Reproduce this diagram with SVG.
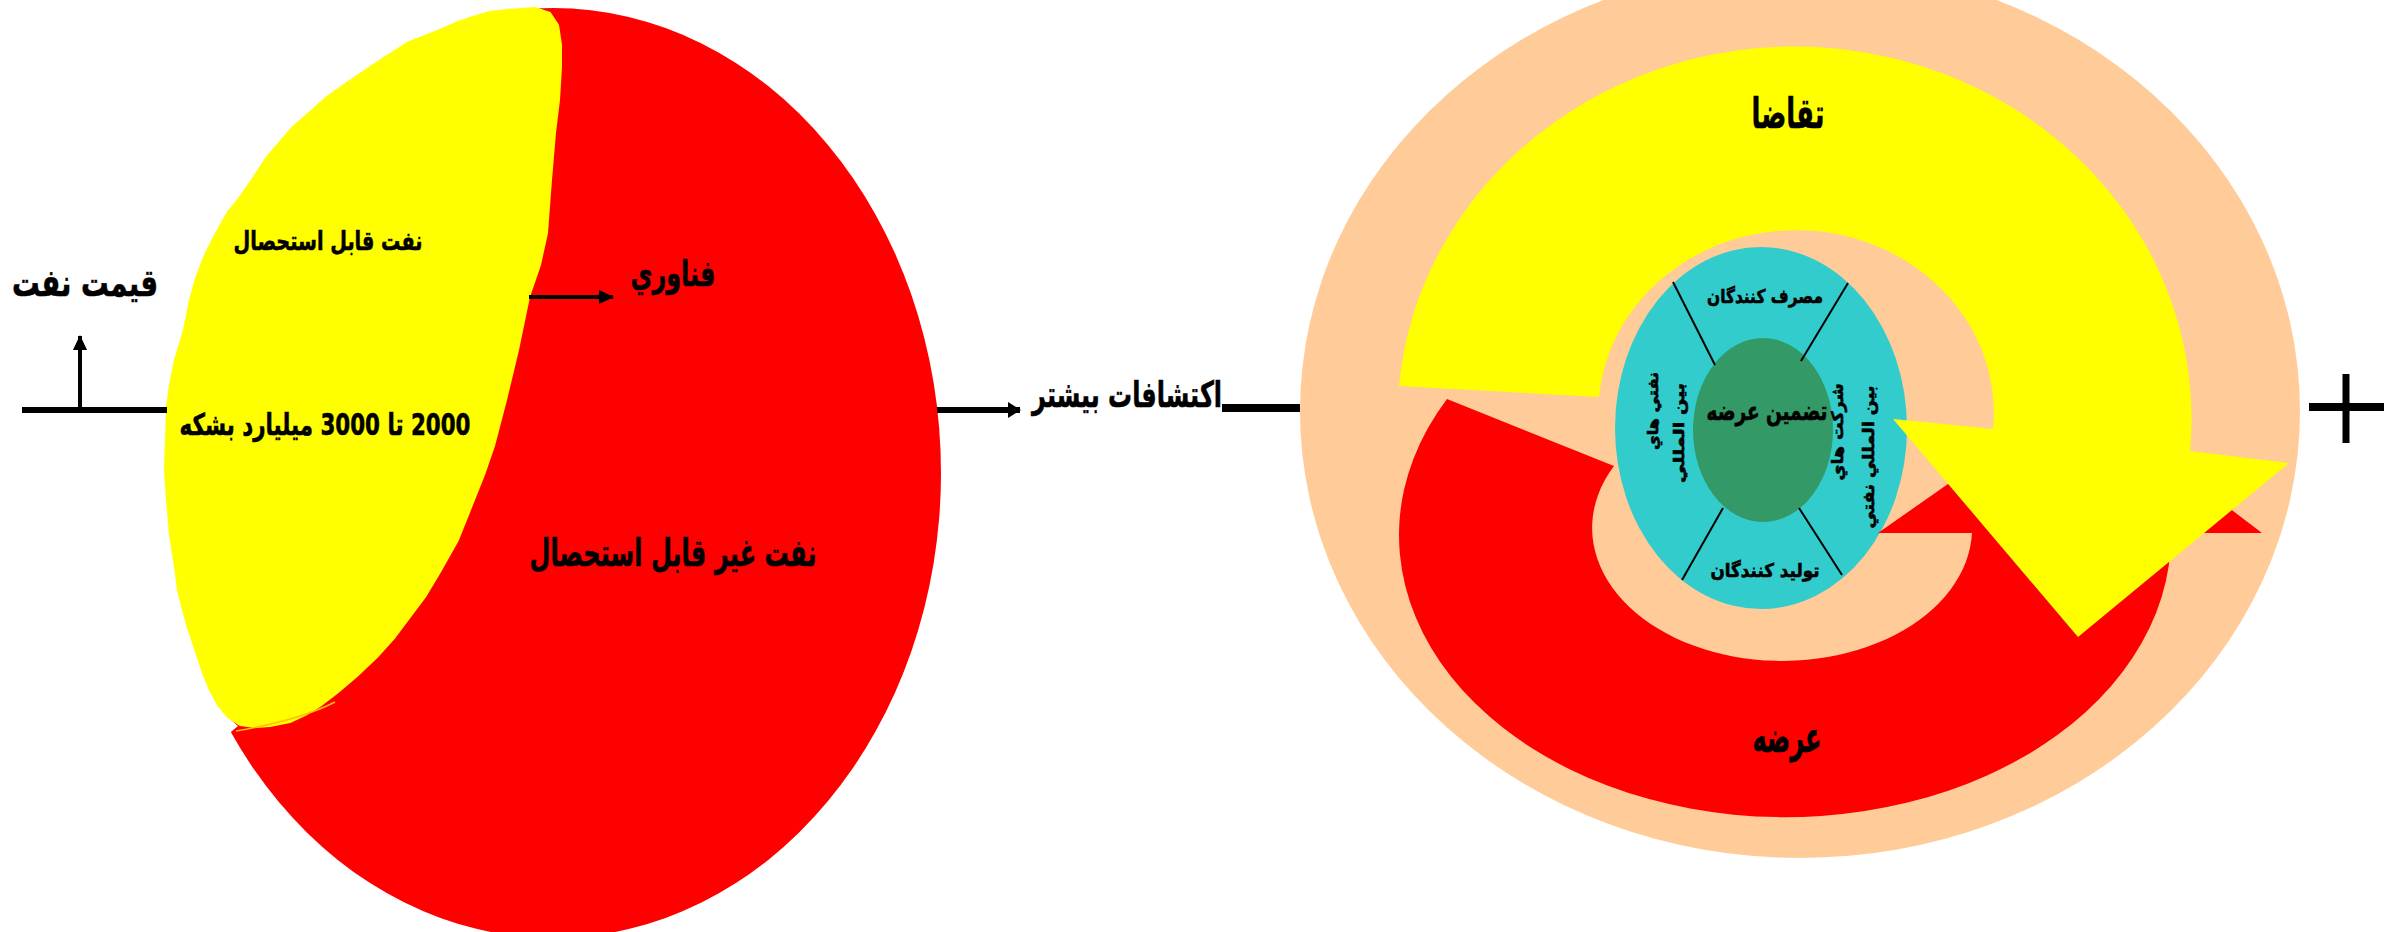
<svg xmlns="http://www.w3.org/2000/svg" width="2392" height="932" viewBox="0 0 2392 932">
<style>
.t{font-family:"DejaVu Sans","Noto Sans",sans-serif;font-weight:bold;fill:#000;stroke:#000;stroke-width:0.6;direction:rtl;text-anchor:middle}
.ln{stroke:#000;fill:none}
</style>
<defs>
<marker id="ah" markerUnits="userSpaceOnUse" markerWidth="13" markerHeight="16" refX="12" refY="8" orient="auto">
<path d="M0,0 L13,8 L0,16 z" fill="#000"/>
</marker>
<marker id="ah2" markerUnits="userSpaceOnUse" markerWidth="15" markerHeight="14" refX="14" refY="7" orient="auto">
<path d="M0,0 L15,7 L0,14 z" fill="#000"/>
</marker>
<clipPath id="redclip">
<path d="M540,0 L535,8 L507,10 L490,12 L473,17 L458,22 L440,30 L425,36 L407,43 L390,54 L370,67 L348,82 L327,97 L310,112 L293,127 L280,142 L267,157 L257,172 L247,187 L240,197 L228,212 L215,235 L205,255 L196,278 L190,300 L184,330 L175,360 L170,385 L167,407 L166,440 L165,470 L167,500 L170,535 L175,567 L178,590 L183,610 L187,625 L193,643 L198,658 L203,673 L210,690 L218,705 L228,717 L238,726 L150,800 L150,932 L1000,932 L1000,0 Z"/>
</clipPath>
</defs>
<rect width="2392" height="932" fill="#fff"/>

<g id="oil-reserves">
<ellipse cx="553" cy="473" rx="388" ry="465" fill="#FF0000" clip-path="url(#redclip)"/>
<path fill="#FFFF00" stroke="#FFFF00" stroke-width="2" stroke-linejoin="round" d="M507,10 L535,8 L550,13 L558,25 L561,45 L561,67 L559,100 L555,133 L551,180 L547,233 L540,265 L529,297 L518,350 L506,400 L494,446 L484,475 L472,505 L458,540 L440,572 L425,597 L410,617 L395,637 L377,657 L357,676 L337,693 L320,706 L307,714 L290,722 L270,726 L255,727 L240,725 L228,717 L218,705 L210,690 L203,673 L198,658 L193,643 L187,625 L183,610 L178,590 L175,567 L170,535 L167,500 L165,470 L166,440 L167,407 L170,385 L175,360 L184,330 L190,300 L196,278 L205,255 L215,235 L228,212 L240,197 L247,187 L257,172 L267,157 L280,142 L293,127 L310,112 L327,97 L348,82 L370,67 L390,54 L407,43 L425,36 L440,30 L458,22 L473,17 L490,12 Z"/>
<path d="M236,731 Q300,720 335,702" stroke="#FFC000" stroke-width="1.5" fill="none"/>
<text class="t" x="328" y="250" font-size="26" textLength="189" lengthAdjust="spacingAndGlyphs">نفت قابل استحصال</text>
<text class="t" x="325" y="435" font-size="30" textLength="291" lengthAdjust="spacingAndGlyphs">2000 تا 3000 ميليارد بشكه</text>
<text class="t" x="673" y="566" font-size="38" textLength="287" lengthAdjust="spacingAndGlyphs">نفت غير قابل استحصال</text>
</g>

<g id="labels-left">
<text class="t" x="85" y="296" font-size="38" textLength="146" lengthAdjust="spacingAndGlyphs">قيمت نفت</text>
<text class="t" x="673" y="286" font-size="36" textLength="85" lengthAdjust="spacingAndGlyphs">فناوري</text>
<text class="t" x="1127" y="407" font-size="36" textLength="190" lengthAdjust="spacingAndGlyphs">اكتشافات بيشتر</text>
</g>

<g id="supply-demand">
<ellipse cx="1800" cy="411" rx="500" ry="447" fill="#FFCC99"/>
<g id="center">
<ellipse cx="1761" cy="428" rx="146" ry="181" fill="#33CCCC"/>
<ellipse cx="1763" cy="430" rx="70" ry="92" fill="#339966"/>
<g class="ln" stroke-width="2">
<line x1="1673" y1="282" x2="1715" y2="365"/>
<line x1="1848" y1="283" x2="1801" y2="361"/>
<line x1="1723" y1="508" x2="1682" y2="580"/>
<line x1="1799" y1="508" x2="1842" y2="575"/>
</g>
<text class="t" x="1765" y="303" font-size="19" textLength="116" lengthAdjust="spacingAndGlyphs">مصرف كنندگان</text>
<text class="t" x="1765" y="577" font-size="19" textLength="109" lengthAdjust="spacingAndGlyphs">توليد كنندگان</text>
<text class="t" x="1767" y="420" font-size="26" textLength="121" lengthAdjust="spacingAndGlyphs">تضمين عرضه</text>
<text class="t" transform="translate(1843,432) rotate(-90)" font-size="16" textLength="97" lengthAdjust="spacingAndGlyphs">شركت هاي</text>
<text class="t" transform="translate(1874,457) rotate(-90)" font-size="16" textLength="143" lengthAdjust="spacingAndGlyphs">بين المللي نفتي</text>
<text class="t" transform="translate(1658,411) rotate(-90)" font-size="15" textLength="78" lengthAdjust="spacingAndGlyphs">نفتي هاي</text>
<text class="t" transform="translate(1684,433) rotate(-90)" font-size="15" textLength="100" lengthAdjust="spacingAndGlyphs">بين المللي</text>
</g>
<path id="supply" fill="#FF0000" d="M1447,399 A386,282 0 1 0 2171,533 L2262,533 L2078,393 L1878,533 L1972,533 A190,133 0 1 1 1614,466 Z"/>
<path id="demand" fill="#FFFF00" d="M1399,386 A396,371 0 1 1 2190,451 L2289,463 L2078,637 L1893,419 L1993,429 A197,182 0 1 0 1599,397 Z"/>
<text class="t" x="1788" y="128" font-size="42" textLength="73" lengthAdjust="spacingAndGlyphs">تقاضا</text>
<text class="t" x="1787" y="752" font-size="42" textLength="69" lengthAdjust="spacingAndGlyphs">عرضه</text>
</g>

<g id="connectors">
<line class="ln" x1="22" y1="410" x2="167" y2="410" stroke-width="6"/>
<line class="ln" x1="80" y1="410" x2="80" y2="336" stroke-width="4" marker-end="url(#ah2)"/>
<line class="ln" x1="529" y1="297" x2="613" y2="297" stroke-width="4" marker-end="url(#ah2)"/>
<line class="ln" x1="937" y1="410" x2="1020" y2="410" stroke-width="6" marker-end="url(#ah)"/>
<line class="ln" x1="1222" y1="408" x2="1300" y2="408" stroke-width="8"/>
<line class="ln" x1="2309" y1="407" x2="2384" y2="407" stroke-width="8"/>
<line class="ln" x1="2346" y1="374" x2="2346" y2="443" stroke-width="7"/>
</g>
</svg>
